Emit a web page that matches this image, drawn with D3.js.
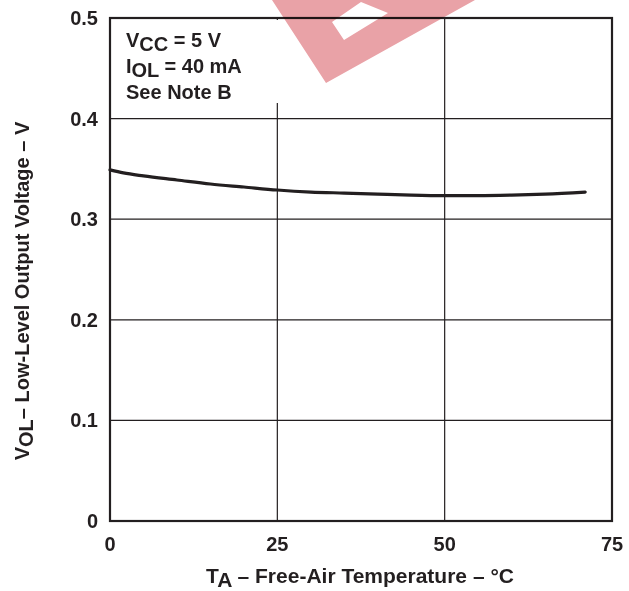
<!DOCTYPE html>
<html>
<head>
<meta charset="utf-8">
<script src="https://cdn.jsdelivr.net/npm/d3@7"></script>
<style>
body { margin: 0; background: #fff; }
text { font-family: "Liberation Sans", Arial, sans-serif; font-weight: bold; fill: #231f20; }
</style>
</head>
<body>
<script>
// temperature (C) vs low-level output voltage (V)
var temps = [0, 2, 5, 10, 15, 20, 25, 30, 35, 40, 45, 50, 55, 60, 65, 71]
var vol = [0.349, 0.346, 0.343, 0.339, 0.335, 0.332, 0.329, 0.327, 0.326, 0.325, 0.324, 0.3235, 0.3235, 0.324, 0.325, 0.327]
var x_ticks = [0, 25, 50, 75]
var y_ticks = [0, 0.1, 0.2, 0.3, 0.4, 0.5]

var width = 629, height = 591
var left_pad = 110, top_pad = 18
var pw = 502, ph = 503
var fs = 20

var svg = d3.select('body').append('svg').attr('width', width).attr('height', height)

x = d3.scaleLinear().domain([0, 75]).range([0, pw])
y = d3.scaleLinear().domain([0, 0.5]).range([ph, 0])

var g = svg.append('g').attr('transform', 'translate(' + left_pad + ',' + top_pad + ')')

// grid
g.selectAll('.vgrid').data(x_ticks.slice(1, -1)).enter().append('line')
	.attr('x1', d => x(d)).attr('x2', d => x(d))
	.attr('y1', 0).attr('y2', ph)
	.attr('stroke', '#231f20').attr('stroke-width', 1.2)
g.selectAll('.hgrid').data(y_ticks.slice(1, -1)).enter().append('line')
	.attr('x1', 0).attr('x2', pw)
	.attr('y1', d => y(d)).attr('y2', d => y(d))
	.attr('stroke', '#231f20').attr('stroke-width', 1.2)

// white box behind the note
g.append('rect').attr('x', 2).attr('y', 2).attr('width', 175).attr('height', 83).attr('fill', '#fff')

// curve
var line = d3.line().x((d, i) => x(temps[i])).y(d => y(d)).curve(d3.curveMonotoneX)
g.append('path').datum(vol).attr('d', line)
	.attr('fill', 'none').attr('stroke', '#231f20').attr('stroke-width', 3.2).attr('stroke-linecap', 'round')

// frame
g.append('rect').attr('width', pw).attr('height', ph)
	.attr('fill', 'none').attr('stroke', '#231f20').attr('stroke-width', 2.2)

// tick labels
g.selectAll('.xl').data(x_ticks).enter().append('text')
	.attr('x', d => x(d)).attr('y', ph + 30)
	.attr('text-anchor', 'middle').attr('font-size', fs)
	.text(d => d)
g.selectAll('.yl').data(y_ticks).enter().append('text')
	.attr('x', -12).attr('y', d => y(d) + 7)
	.attr('text-anchor', 'end').attr('font-size', fs)
	.text(d => d == 0 ? '0' : d.toFixed(1))

// note
var note = g.append('text').attr('font-size', fs).attr('x', 16)
var l1 = note.append('tspan').attr('x', 16).attr('y', 29)
l1.append('tspan').text('V')
l1.append('tspan').attr('dy', 4).text('CC')
l1.append('tspan').attr('dy', -4).text(' = 5 V')
var l2 = note.append('tspan').attr('x', 16).attr('y', 55)
l2.append('tspan').text('I')
l2.append('tspan').attr('dy', 4).text('OL')
l2.append('tspan').attr('dy', -4).text(' = 40 mA')
note.append('tspan').attr('x', 16).attr('y', 81).text('See Note B')

// axis titles
var xt = svg.append('text').attr('x', 360).attr('y', 583)
	.attr('text-anchor', 'middle').attr('font-size', 21)
xt.append('tspan').text('T')
xt.append('tspan').attr('dy', 4).text('A')
xt.append('tspan').attr('dy', -4).text(' \u2013 Free-Air Temperature \u2013 \u00b0C')

var yt = svg.append('text').attr('transform', 'translate(29,' + 291 + ') rotate(-90)')
	.attr('text-anchor', 'middle').attr('font-size', fs)
yt.append('tspan').text('V')
yt.append('tspan').attr('dy', 4).text('OL')
yt.append('tspan').attr('dy', -4).text('\u2013 Low-Level Output Voltage \u2013 V')

// watermark fragment at the top
var wm = svg.append('g').style('mix-blend-mode', 'multiply')
wm.append('path')
	.attr('d', 'M272,0 L475,0 L326,83 Z M332,22 L361,2 L388,13 L344,40 Z')
	.attr('fill', '#e9a2a7').attr('fill-rule', 'evenodd')
</script>
</body>
</html>
